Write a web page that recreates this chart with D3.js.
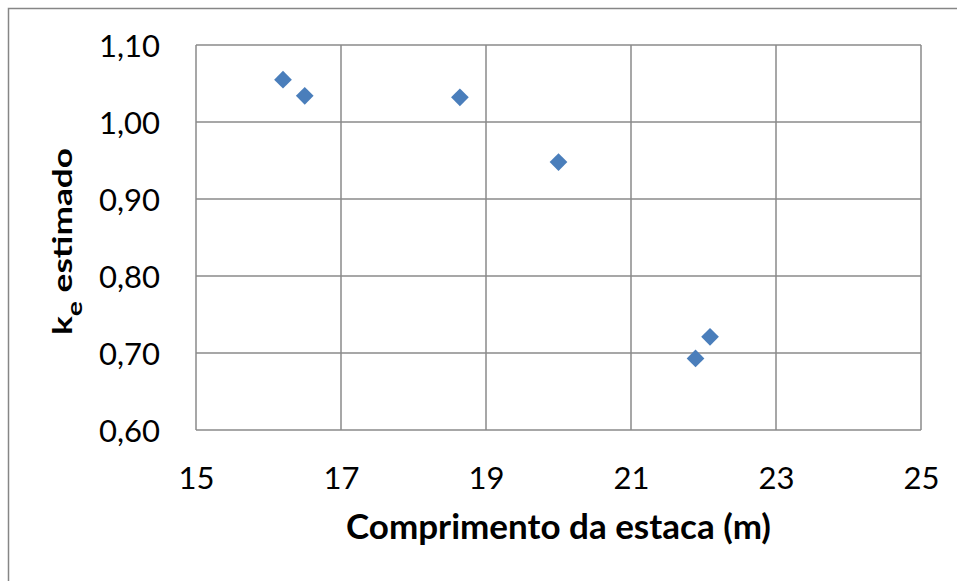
<!DOCTYPE html>
<html><head><meta charset="utf-8">
<script src="https://cdn.jsdelivr.net/npm/d3@7"></script>
<style>html,body{margin:0;padding:0;background:#fff}svg{display:block}</style>
</head><body>
<script>
const comprimento = [16.2, 16.5, 18.64, 20.0, 21.89, 22.09];
const keEstimado = [1.055, 1.034, 1.032, 0.948, 0.693, 0.721];
const xTicks = [15, 17, 19, 21, 23, 25];
const yTicks = [0.60, 0.70, 0.80, 0.90, 1.00, 1.10];
const xLabel = "Comprimento da estaca (m)";

const W = 957, H = 581;
const m = {left: 196, right: 36, top: 45, bottom: 151};
const font = "Lato, 'Open Sans', sans-serif";
const svg = d3.select("body").append("svg").attr("width", W).attr("height", H);
// outer chart border (only top and left edges visible in the crop)
svg.append("path").attr("d", `M8.5,${H} V8.5 H${W}`)
  .attr("fill", "none").attr("stroke", "#868686").attr("stroke-width", 1.5);

const x = d3.scaleLinear().domain([15, 25]).range([m.left, W - m.right]);
const y = d3.scaleLinear().domain([0.6, 1.1]).range([H - m.bottom, m.top]);

const grid = svg.append("g");
grid.selectAll(".vx").data(xTicks).join("line")
  .attr("x1", d => x(d)).attr("x2", d => x(d)).attr("y1", y(0.6)).attr("y2", y(1.1))
  .attr("stroke", "#8a8a8a").attr("stroke-width", 1.5);
grid.selectAll(".hy").data(yTicks).join("line")
  .attr("x1", x(15)).attr("x2", x(25)).attr("y1", d => y(d)).attr("y2", d => y(d))
  .attr("stroke", "#8a8a8a").attr("stroke-width", 1.5);

const xAxis = d3.axisBottom(x).tickValues(xTicks).tickSize(0).tickPadding(0).tickFormat(d3.format("d"));
const gx = svg.append("g").attr("transform", `translate(0,${y(0.6)})`).call(xAxis);
gx.select(".domain").remove();
gx.selectAll("text").attr("font-family", font).attr("font-size", 31).attr("fill", "#000")
  .attr("dy", 0).attr("y", 59);

const yAxis = d3.axisLeft(y).tickValues(yTicks).tickSize(0).tickPadding(0)
  .tickFormat(d => d3.format(".2f")(d).replace(".", ","));
const gy = svg.append("g").attr("transform", `translate(${x(15) - 36},0)`).call(yAxis);
gy.select(".domain").remove();
gy.selectAll("text").attr("font-family", font).attr("font-size", 31).attr("fill", "#000").attr("dy", "0.36em");

svg.append("text").attr("x", (x(15) + x(25)) / 2).attr("y", 539)
  .attr("text-anchor", "middle").attr("font-family", font).attr("font-weight", "bold")
  .attr("font-size", 35).attr("fill", "#000").text(xLabel);

const cy = (y(0.6) + y(1.1)) / 2 + 4;
const ytG = svg.append("g").attr("transform", `translate(72,${cy}) rotate(-90)`);
const yt = ytG.append("text").attr("text-anchor", "middle").attr("font-family", font).attr("font-weight", "bold")
  .attr("font-size", 26).attr("fill", "#000");
yt.append("tspan").text("k");
yt.append("tspan").attr("font-size", 21).attr("dy", 10).text("e");
yt.append("tspan").attr("dy", -10).text(" estimado");
const len = yt.node().getComputedTextLength();
yt.attr("transform", `scale(${187 / len},1)`);

const sym = d3.symbol().type(d3.symbolDiamond2).size(200);
svg.append("g").selectAll("path").data(comprimento.map((c, i) => [c, keEstimado[i]])).join("path")
  .attr("d", sym).attr("transform", d => `translate(${x(d[0])},${y(d[1])})`)
  .attr("fill", "#4a7ebb");
</script>
</body></html>
